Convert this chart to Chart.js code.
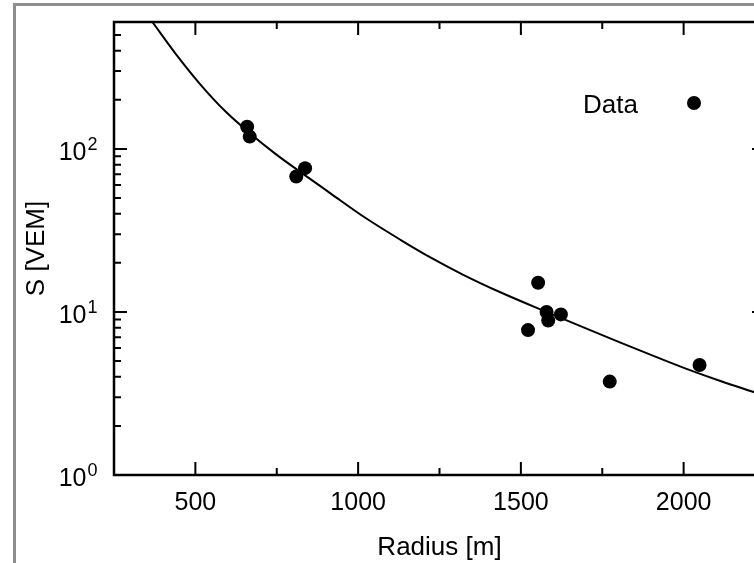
<!DOCTYPE html>
<html>
<head>
<meta charset="utf-8">
<script src="https://cdn.jsdelivr.net/npm/chart.js@4.4.1/dist/chart.umd.min.js"></script>
<style>
  html, body { margin: 0; padding: 0; background: #fff; overflow: hidden; }
  #frame {
    position: absolute; left: 13px; top: 3px; width: 800px; height: 600px;
    border-left: 3px solid #8e8e8e; border-top: 3px solid #8e8e8e;
  }
  #wrap { position: absolute; left: 0; top: 0; width: 780px; height: 563px; }
</style>
</head>
<body>
<div id="frame"></div>
<div id="wrap"><canvas id="myChart"></canvas></div>
<script>
// measured points (radius in m, signal in VEM)
var radius = [659, 667, 810, 837, 1522, 1553, 1579, 1584, 1623, 1773, 2049];
var signal = [136.8, 118.9, 67.7, 76.2, 7.74, 15.1, 10.0, 8.87, 9.66, 3.74, 4.73];

// fitted curve
var fitRadius = [368, 439, 515, 592, 663, 746, 824, 915, 1022, 1130, 1222, 1323, 1437, 1580, 1698, 1806, 1913, 2011, 2113, 2217];
var fitSignal = [600, 384, 249, 170, 127, 93.2, 71.8, 53.4, 37.8, 27.7, 21.6, 16.9, 13.2, 9.97, 7.95, 6.48, 5.32, 4.46, 3.77, 3.22];

var xTickLabels = [500, 1000, 1500, 2000];
var xMinorTicks = [750, 1250, 1750];
var yTickValues = [1, 10, 100];
var yTickExponents = ['0', '1', '2'];

var FONT = '"Liberation Sans", Arial, Helvetica, sans-serif';

var frameTicks = {
  id: 'frameTicks',
  afterDraw: function(chart) {
    var ctx = chart.ctx;
    var a = chart.chartArea;
    var xs = chart.scales.x, ys = chart.scales.y;
    ctx.save();
    ctx.strokeStyle = '#000';
    ctx.lineWidth = 2.5;
    ctx.strokeRect(a.left, a.top, a.right - a.left, a.bottom - a.top);

    ctx.lineWidth = 2;
    function xt(v, len) {
      var px = xs.getPixelForValue(v);
      ctx.beginPath();
      ctx.moveTo(px, a.bottom); ctx.lineTo(px, a.bottom - len);
      ctx.moveTo(px, a.top); ctx.lineTo(px, a.top + len);
      ctx.stroke();
    }
    function yt(v, len) {
      var py = ys.getPixelForValue(v);
      ctx.beginPath();
      ctx.moveTo(a.left, py); ctx.lineTo(a.left + len, py);
      ctx.moveTo(a.right, py); ctx.lineTo(a.right - len, py);
      ctx.stroke();
    }
    xTickLabels.forEach(function(v) { xt(v, 13); });
    xMinorTicks.forEach(function(v) { xt(v, 7); });
    yTickValues.forEach(function(v) { yt(v, 13); });
    yTickValues.forEach(function(d) {
      for (var k = 2; k <= 9; k++) {
        if (d * k < ys.max) yt(d * k, 7);
      }
    });

    // y tick labels as 10^n
    ctx.fillStyle = '#000';
    ctx.textBaseline = 'alphabetic';
    yTickValues.forEach(function(v, i) {
      var py = ys.getPixelForValue(v);
      ctx.font = '25px ' + FONT;
      ctx.textAlign = 'right';
      ctx.fillText('10', 86.5, py + 11);
      ctx.font = '18px ' + FONT;
      ctx.textAlign = 'left';
      ctx.fillText(yTickExponents[i], 87.5, py + 1);
    });

    // legend
    ctx.font = '26px ' + FONT;
    ctx.textAlign = 'right';
    ctx.fillText('Data', 638, 113);
    ctx.beginPath();
    ctx.arc(694, 103, 7, 0, Math.PI * 2);
    ctx.fill();
    ctx.restore();
  }
};

var ctx = document.getElementById('myChart').getContext('2d');

var myChart = new Chart(ctx, {
  type: 'scatter',
  data: {
    datasets: [{
      label: 'Data',
      data: radius.map(function(r, i) { return {x: r, y: signal[i]}; }),
      backgroundColor: '#000',
      borderWidth: 0,
      pointRadius: 7
    }, {
      label: 'Fit',
      type: 'line',
      data: fitRadius.map(function(r, i) { return {x: r, y: fitSignal[i]}; }),
      borderColor: '#000',
      borderWidth: 2,
      pointRadius: 0,
      cubicInterpolationMode: 'monotone',
      fill: false
    }]
  },
  options: {
    responsive: true,
    maintainAspectRatio: false,
    animation: false,
    layout: { padding: { top: 22, right: 15, bottom: 0, left: 0 } },
    plugins: { legend: { display: false }, tooltip: { enabled: false } },
    scales: {
      x: {
        type: 'linear',
        min: 250,
        max: 2250,
        grid: { display: false, drawTicks: false },
        border: { display: false },
        afterBuildTicks: function(scale) {
          scale.ticks = xTickLabels.map(function(v) { return {value: v}; });
        },
        afterFit: function(scale) { scale.height = 88; },
        ticks: {
          color: '#000', font: { family: FONT, size: 25 }, padding: 13, maxRotation: 0,
          callback: function(v) { return String(v); }
        },
        title: { display: true, text: 'Radius [m]', color: '#000', font: { family: FONT, size: 26 }, padding: { top: 5, bottom: 0 } }
      },
      y: {
        type: 'logarithmic',
        min: 1,
        max: 600,
        grid: { display: false, drawTicks: false },
        border: { display: false },
        afterFit: function(scale) { scale.width = 114; },
        ticks: { display: false },
        title: { display: true, text: 'S [VEM]', color: '#000', font: { family: FONT, size: 26 }, padding: { top: 21, bottom: 0 } }
      }
    }
  },
  plugins: [frameTicks]
});
</script>
</body>
</html>
